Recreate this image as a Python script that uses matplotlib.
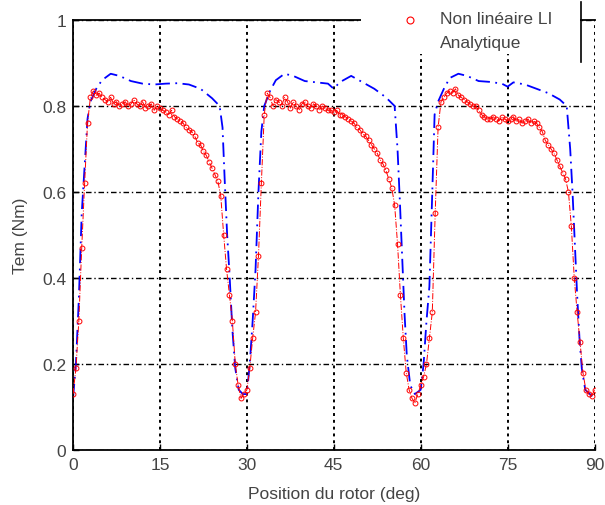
import matplotlib
matplotlib.use("Agg")
import matplotlib.pyplot as plt
from matplotlib.lines import Line2D

# Analytique (blue)
ana_x = [0, 0.5, 1.0, 1.5, 2.0, 2.5, 3.0, 4.0, 5.0, 6.5, 8.0, 10, 12, 14, 16, 18, 20, 22, 24,
         25.3, 25.8, 26.2, 26.6, 27.0, 27.5, 28.0, 28.6, 29.3, 30.0, 30.5, 31.0, 31.5, 32.0,
         32.5, 33, 34, 35, 36.5, 38, 40, 42, 44, 45, 46, 48, 50, 52, 54, 55.5, 56.0, 56.4,
         56.8, 57.2, 57.6, 58.2, 59, 60, 60.5, 61.0, 61.5, 62.0, 62.4, 63, 64, 65, 66.5, 68,
         70, 72, 74, 75, 76, 78, 80, 82, 84, 85.2, 85.8, 86.2, 86.6, 87.0, 87.4, 87.8, 88.4,
         89.2, 90]
ana_y = [0.12, 0.2, 0.35, 0.55, 0.66, 0.77, 0.81, 0.84, 0.86, 0.875, 0.87, 0.858, 0.852, 0.85,
         0.852, 0.853, 0.85, 0.84, 0.818, 0.80, 0.75, 0.62, 0.5, 0.41, 0.28, 0.19, 0.14, 0.13,
         0.13, 0.2, 0.3, 0.42, 0.6, 0.74, 0.8, 0.835, 0.86, 0.875, 0.87, 0.858, 0.855, 0.852,
         0.84, 0.855, 0.87, 0.855, 0.84, 0.82, 0.80, 0.7, 0.58, 0.45, 0.32, 0.22, 0.15, 0.13,
         0.14, 0.2, 0.3, 0.38, 0.6, 0.78, 0.81, 0.84, 0.865, 0.875, 0.87, 0.858, 0.856, 0.852,
         0.845, 0.855, 0.85, 0.84, 0.83, 0.815, 0.80, 0.7, 0.6, 0.48, 0.36, 0.26, 0.19, 0.14,
         0.13, 0.12]

# Non lineaire LI (red, circles) - sampled every 0.5 deg
nl_x = [i * 0.5 for i in range(181)]
nl_y = [0.13, 0.19, 0.3, 0.47, 0.62, 0.76, 0.82, 0.835, 0.825, 0.83,
        0.82, 0.815, 0.81, 0.82, 0.805, 0.81, 0.8, 0.805, 0.81, 0.8,
        0.805, 0.815, 0.805, 0.8, 0.81, 0.795, 0.8, 0.805, 0.79, 0.8,
        0.795, 0.79, 0.785, 0.78, 0.79, 0.775, 0.77, 0.765, 0.76, 0.75,
        0.745, 0.74, 0.73, 0.715, 0.71, 0.695, 0.685, 0.67, 0.655, 0.64,
        0.625, 0.59, 0.5, 0.42, 0.36, 0.3, 0.2, 0.15, 0.12, 0.13,
        0.14, 0.19, 0.26, 0.32, 0.45, 0.62, 0.78, 0.83, 0.82, 0.8,
        0.815, 0.81, 0.8, 0.82, 0.81, 0.795, 0.81, 0.8, 0.79, 0.805,
        0.81, 0.8, 0.795, 0.805, 0.8, 0.79, 0.8, 0.795, 0.79, 0.79,
        0.785, 0.79, 0.78, 0.78, 0.775, 0.77, 0.765, 0.76, 0.75, 0.745,
        0.735, 0.73, 0.72, 0.71, 0.7, 0.69, 0.675, 0.665, 0.65, 0.63,
        0.61, 0.57, 0.48, 0.36, 0.26, 0.18, 0.14, 0.12, 0.11, 0.13,
        0.15, 0.17, 0.2, 0.26, 0.32, 0.55, 0.75, 0.81, 0.82, 0.83,
        0.835, 0.83, 0.84, 0.825, 0.82, 0.815, 0.81, 0.805, 0.8, 0.8,
        0.79, 0.78, 0.775, 0.77, 0.77, 0.775, 0.77, 0.765, 0.775, 0.77,
        0.765, 0.77, 0.775, 0.765, 0.77, 0.76, 0.765, 0.77, 0.76, 0.765,
        0.76, 0.75, 0.74, 0.72, 0.71, 0.7, 0.69, 0.675, 0.66, 0.645,
        0.63, 0.6, 0.52, 0.4, 0.32, 0.25, 0.18, 0.14, 0.13, 0.125,
        0.14]

xticks = [0, 15, 30, 45, 60, 75, 90]
yticks = [0, 0.2, 0.4, 0.6, 0.8, 1]
labels = ['Non linéaire LI', 'Analytique']

plt.rcParams['font.family'] = ['Liberation Sans', 'DejaVu Sans']
txt = '#444444'

fig = plt.figure(figsize=(6.05, 5.06), dpi=100)
ax = fig.add_axes([0.1207, 0.1087, 0.862, 0.8498])

ax.plot(nl_x, nl_y, color='red', linestyle='-.', linewidth=0.7,
        marker='o', markersize=3.5, markerfacecolor='none', markeredgewidth=0.7,
        zorder=3)
ax.plot(ana_x, ana_y, color='blue', linestyle=(0, (8, 3, 1, 3)), linewidth=1.3,
        zorder=2)

ax.set_xlim(0, 90)
ax.set_ylim(0, 1)
ax.set_xticks(xticks)
ax.set_yticks(yticks)
ax.set_yticklabels(['0', '0.2', '0.4', '0.6', '0.8', '1'])
ax.tick_params(direction='in', length=4, labelsize=12.5, labelcolor=txt, width=1, pad=5)

ax.yaxis.grid(True, color='black', linestyle=(0, (4, 2, 1, 2)), linewidth=1)
ax.xaxis.grid(True, color='black', linestyle=(0, (1.5, 2)), linewidth=1.4)
ax.set_axisbelow(True)

ax.spines['right'].set_visible(False)
for s in ['left', 'bottom', 'top']:
    ax.spines[s].set_linewidth(1.3)

ax.set_xlabel('Position du rotor (deg)', fontsize=12.5, color=txt, labelpad=10)
ax.set_ylabel('Tem (Nm)', fontsize=12.5, color=txt, labelpad=10)

# legend: white box with the labels, the red circle drawn in front of the first label
blank = Line2D([], [], linestyle='none')
leg = fig.legend(handles=[blank, blank], labels=labels, loc='upper left',
                 bbox_to_anchor=(0.597, 0.985, 0.362, 0), mode='expand',
                 fontsize=12.5, frameon=True, framealpha=1, edgecolor='white',
                 facecolor='white', handlelength=3.5, handletextpad=0.8,
                 borderaxespad=0, labelspacing=0.5, borderpad=0.25)
for t in leg.get_texts():
    t.set_color(txt)
leg.set_zorder(10)
leg.get_frame().set_linewidth(0)

h1 = Line2D([], [], color='red', linestyle='none', marker='o', markersize=5,
            markerfacecolor='none', markeredgewidth=0.8)
leg2 = fig.legend(handles=[h1], labels=[''], loc='center',
                  bbox_to_anchor=(0.678, 0.9565), frameon=False,
                  handlelength=1, handletextpad=0, borderpad=0, borderaxespad=0)
leg2.set_zorder(11)

fig.add_artist(Line2D([0.96, 0.96], [0.875, 0.995], transform=fig.transFigure,
                      color='black', linewidth=1.2, zorder=11))

fig.savefig('out.png', dpi=100)
